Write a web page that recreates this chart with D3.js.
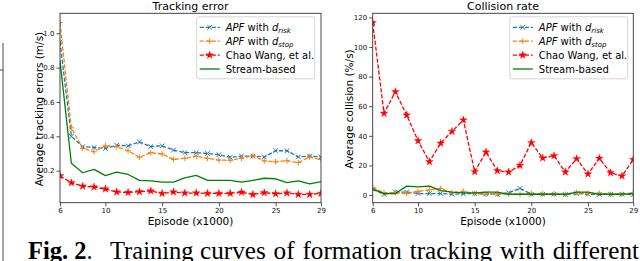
<!DOCTYPE html>
<html><head><meta charset="utf-8">
<script src="https://cdn.jsdelivr.net/npm/d3@7"></script>
<style>html,body{margin:0;padding:0;background:#fff;}svg{display:block;}</style>
</head><body>
<svg id="c" width="640" height="261"></svg>
<script>
const episodes = [6,7,8,9,10,11,12,13,14,15,16,17,18,19,20,21,22,23,24,25,26,27,28,29];
const xTicks = [6,10,15,20,25,29];

// Tracking error (m/s)
const trkRisk   = [0.95,0.40,0.34,0.335,0.33,0.348,0.345,0.367,0.34,0.345,0.32,0.305,0.305,0.30,0.293,0.278,0.285,0.285,0.28,0.316,0.316,0.28,0.285,0.28];
const trkStop   = [1.062,0.45,0.33,0.31,0.345,0.34,0.316,0.278,0.305,0.297,0.266,0.272,0.285,0.272,0.262,0.26,0.272,0.288,0.257,0.252,0.258,0.247,0.28,0.265];
const trkWang   = [0.17,0.13,0.11,0.105,0.093,0.076,0.073,0.078,0.082,0.068,0.076,0.07,0.07,0.068,0.068,0.068,0.074,0.062,0.072,0.066,0.07,0.062,0.062,0.068];
const trkStream = [0.84,0.243,0.188,0.208,0.171,0.192,0.178,0.144,0.141,0.134,0.134,0.158,0.173,0.144,0.144,0.144,0.134,0.144,0.156,0.153,0.131,0.141,0.123,0.136];
const trkYTicks = [0.2,0.4,0.6,0.8,1.0];

// Collision rate (%/s)
const colRisk   = [4,0.5,2,2,1,1,1,0.5,0.8,1,0.8,0.5,1.5,4.5,0.5,0.5,0.5,0.3,1,0.5,0.3,0.5,0.5,0.3];
const colStop   = [5,1.5,1.5,1,2.5,3.5,4.5,1.5,2.5,1,0.5,1,0.5,0.5,1,0.8,0.8,0.5,1.5,1,1.2,0.5,0.5,1.5];
const colWang   = [116.4,55.2,69.8,54,36.7,22.5,35,43,50.7,15.8,29,16.4,15.5,20,35.4,25,26.6,15.5,24.5,14.2,24.8,15,12.8,24];
const colStream = [4,1,1,6,5.5,6,3,2,1.5,1.5,2,2,0.5,0.5,0.5,0.5,0.5,0.5,2,2,0.5,0.5,0.5,1];
const colYTicks = [0,20,40,60,80,100,120];

const seriesStyle = [
  {name:"risk",   color:"#1f77b4", dash:"4.2,1.8", marker:"x"},
  {name:"stop",   color:"#ff7f0e", dash:"4.2,1.8", marker:"+"},
  {name:"wang",   color:"#ff0000", dash:"4.2,1.8", marker:"*"},
  {name:"stream", color:"#008000", dash:null,      marker:null}
];

const svg = d3.select("#c");
const FONT = "DejaVu Sans";

function drawMarker(g, type, x, y, color){
  if(type==="x"){
    const s=2.3;
    g.append("path").attr("d",`M${x-s},${y-s}L${x+s},${y+s}M${x-s},${y+s}L${x+s},${y-s}`)
     .attr("stroke",color).attr("stroke-width",1).attr("fill","none");
  } else if(type==="+"){
    const s=2.8;
    g.append("path").attr("d",`M${x-s},${y}L${x+s},${y}M${x},${y-s}L${x},${y+s}`)
     .attr("stroke",color).attr("stroke-width",1).attr("fill","none");
  } else if(type==="*"){
    g.append("path").attr("d",d3.symbol(d3.symbolStar,18)()).attr("transform",`translate(${x},${y})`)
     .attr("fill",color).attr("stroke",color).attr("stroke-width",0.4);
  }
}

function panel(opt){
  const {x0,x1,y0,y1,ydom,yticks,yfmt,data,title,ylabel,ylabX,legendX} = opt;
  const x = d3.scaleLinear().domain([6,29]).range([x0,x1]);
  const y = d3.scaleLinear().domain(ydom).range([y1,y0]);
  const g = svg.append("g");
  const clip = "clip"+Math.round(x0);
  svg.append("clipPath").attr("id",clip).append("rect").attr("x",x0).attr("y",y0).attr("width",x1-x0).attr("height",y1-y0);
  const plot = g.append("g").attr("clip-path",`url(#${clip})`);
  const line = d3.line().x((d,i)=>x(episodes[i])).y(d=>y(d));
  data.forEach((vals,si)=>{
    const st = seriesStyle[si];
    plot.append("path").attr("d",line(vals)).attr("fill","none").attr("stroke",st.color)
      .attr("stroke-width",1.3).attr("stroke-dasharray",st.dash).attr("stroke-linejoin","round");
    if(st.marker) vals.forEach((v,i)=>drawMarker(plot,st.marker,x(episodes[i]),y(v),st.color));
  });
  // axes
  const ax = g.append("g").attr("transform",`translate(0,${y1})`)
    .call(d3.axisBottom(x).tickValues(xTicks).tickSize(3.5).tickPadding(2).tickFormat(d3.format("d")));
  const ay = g.append("g").attr("transform",`translate(${x0},0)`)
    .call(d3.axisLeft(y).tickValues(yticks).tickSize(3.5).tickPadding(2).tickFormat(yfmt));
  [ax,ay].forEach(a=>{
    a.select(".domain").remove();
    a.selectAll("line").attr("stroke","#222").attr("stroke-width",0.8);
    a.selectAll("text").attr("font-family",FONT).attr("font-size",7).attr("fill","#111");
  });
  g.append("rect").attr("x",x0).attr("y",y0).attr("width",x1-x0).attr("height",y1-y0)
    .attr("fill","none").attr("stroke","#333").attr("stroke-width",0.9);
  // title
  g.append("text").attr("x",(x0+x1)/2).attr("y",10).attr("text-anchor","middle")
    .attr("font-family",FONT).attr("font-size",11).attr("fill","#000").text(title);
  g.append("text").attr("x",(x0+x1)/2).attr("y",225).attr("text-anchor","middle")
    .attr("font-family",FONT).attr("font-size",10.5).attr("fill","#000").text("Episode (x1000)");
  g.append("text").attr("transform",`translate(${ylabX},${(y0+y1)/2+1}) rotate(-90)`).attr("text-anchor","middle")
    .attr("font-family",FONT).attr("font-size",10.5).attr("fill","#000").text(ylabel);
  // legend
  const lg = g.append("g").attr("transform",`translate(${legendX},16.8)`);
  lg.append("rect").attr("x",0).attr("y",0).attr("width",118).attr("height",62).attr("rx",2)
    .attr("fill","#fff").attr("fill-opacity",0.85).attr("stroke","#ccc").attr("stroke-width",0.8);
  const labels = [["APF"," with ","d","risk"],["APF"," with ","d","stop"],["Chao Wang, et al."],["Stream-based"]];
  seriesStyle.forEach((st,i)=>{
    const yy = 10.5 + i*13.9;
    lg.append("line").attr("x1",3).attr("x2",23).attr("y1",yy).attr("y2",yy).attr("stroke",st.color)
      .attr("stroke-width",1.3).attr("stroke-dasharray",st.dash);
    if(st.marker) drawMarker(lg,st.marker,13,yy,st.color);
    const t = lg.append("text").attr("x",29).attr("y",yy+3.6).attr("font-family",FONT).attr("font-size",10).attr("fill","#000");
    const L = labels[i];
    if(L.length===1){ t.text(L[0]); }
    else {
      t.append("tspan").attr("font-style","italic").text(L[0]);
      t.append("tspan").text(L[1]);
      t.append("tspan").attr("font-style","italic").text(L[2]);
      t.append("tspan").attr("font-style","italic").attr("font-size",7).attr("dy",1.8).text(L[3]);
    }
  });
}

panel({x0:60,x1:321,y0:13.3,y1:202.7,ydom:[0.0137,1.116],yticks:trkYTicks,yfmt:d3.format(".1f"),
  data:[trkRisk,trkStop,trkWang,trkStream],title:"Tracking error",ylabel:"Average tracking errors (m/s)",ylabX:43,legendX:196.7});
panel({x0:372.7,x1:633.3,y0:13.3,y1:202.7,ydom:[-5.2,122.8],yticks:colYTicks,yfmt:d3.format("d"),
  data:[colRisk,colStop,colWang,colStream],title:"Collision rate",ylabel:"Average collision (%/s)",ylabX:352.5,legendX:509.8});

// left border fragments from neighbouring figure
svg.append("path").attr("d","M3,43V261M0,70H3").attr("stroke","#333").attr("stroke-width",0.9).attr("fill","none");

// caption
const cap = svg.append("g").attr("font-family","Liberation Serif").attr("font-size",24.5).attr("fill","#000");
const fig = cap.append("text").attr("x",28).attr("y",258.5).attr("font-weight","bold").text("Fig. 2");
const figW = fig.node().getComputedTextLength();
cap.append("text").attr("x",28+figW).attr("y",258.5).text(".");
const w1 = cap.append("text").attr("x",110).attr("y",258.5).text("Training");
const rest = cap.append("text").attr("x",200).attr("y",258.5).attr("font-size",25.2).text("curves of formation tracking with different");
const natural = rest.node().getComputedTextLength();
rest.attr("word-spacing",Math.max(0,(439-natural)/5));
</script>
</body></html>
